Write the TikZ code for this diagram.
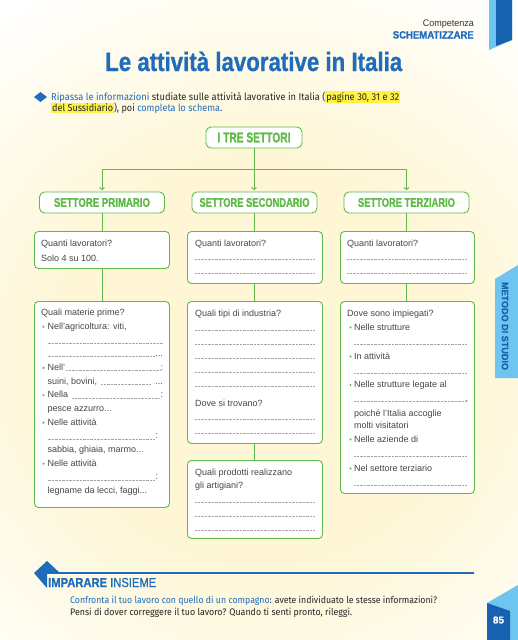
\documentclass[tikz,border=0pt]{standalone}
\usepackage{fontspec}
\usepackage{graphicx}
\setmainfont{Liberation Sans}
\newfontfamily\firafont{Fira Sans}
\newfontfamily\heavyfont[FakeBold=0.9]{Liberation Sans}
\newfontfamily\heavierfont[FakeBold=1.6]{Liberation Sans}
\usetikzlibrary{arrows.meta}
\definecolor{tblue}{RGB}{30,108,186}
\definecolor{dblue}{RGB}{24,96,176}
\definecolor{lblue}{RGB}{110,198,240}
\definecolor{sgreen}{RGB}{96,186,74}
\definecolor{tgray}{RGB}{70,70,70}
\definecolor{cream}{RGB}{254,246,212}
\definecolor{hyellow}{RGB}{255,242,70}
\pgfdeclareradialshading{creamglow}{\pgfpoint{0bp}{0bp}}{color(0bp)=(cream); color(11bp)=(cream); color(25bp)=(white); color(50bp)=(white)}
\newcommand{\wfit}[2]{\resizebox{#1}{\height}{#2}}
\newcommand{\hlt}[1]{{\fboxsep=1pt\colorbox{hyellow}{#1}}}
\newcommand{\tl}[4]{\node[txt] (#1) at (#2,#3) {#4};}
\newcommand{\dl}[3]{\draw[dots] (#1,#3) -- (#2,#3);}
\newcommand{\bl}[3]{\node[bul] (#1) at (#2,#3) {};}
\begin{document}
\begin{tikzpicture}[x=1pt,y=-1pt,
  gbox/.style={draw=sgreen, line width=0.9pt, rounded corners=4pt, fill=white, inner sep=0pt, anchor=north west},
  hbox/.style={draw=sgreen, line width=0.9pt, rounded corners=5pt, fill=white, inner sep=0pt, text=sgreen, minimum height=21pt},
  conn/.style={draw=sgreen, line width=0.9pt},
  arr/.style={conn, -{To[length=3pt,width=5.5pt]}, shorten >=1.5pt},
  txt/.style={anchor=base west, inner sep=0pt, text=tgray, font=\fontsize{9}{10}\selectfont},
  dots/.style={draw=black!35, line width=0.3pt, dash pattern=on 0.3pt off 1.1pt},
  bul/.style={fill=sgreen, circle, inner sep=0pt, minimum size=2.4pt}
]
\useasboundingbox (0,0) rectangle (518,640);
\fill[white] (0,0) rectangle (518,640);
\begin{scope}
\clip (0,0) rectangle (518,640);
\shade[top color=lblue, bottom color=white] (0,0) rectangle (518,30);
\shade[shading=creamglow] (-190,-70) rectangle (710,790);
\end{scope}

% top-right bookmark
\fill[lblue] (489,0) -- (512,0) -- (512,40) -- (489,50) -- cycle;
\fill[dblue] (496,0) -- (512,0) -- (512,40) -- (496,46) -- cycle;

% header
\node[anchor=base east, inner sep=0pt, text=black!80, font=\fontsize{9.5}{10}\selectfont] (comp) at (474,26) {\wfit{51pt}{Competenza}};
\node[anchor=base east, inner sep=0pt, text=tblue, font=\heavyfont\fontsize{10.5}{11}\selectfont\bfseries] (schem) at (474,38.5) {\wfit{81pt}{SCHEMATIZZARE}};
\node[anchor=base west, inner sep=0pt, text=tblue, font=\heavyfont\fontsize{26.5}{28}\selectfont\bfseries] (title) at (105,71) {\wfit{297pt}{Le attività lavorative in Italia}};

% instruction
\fill[tblue] (34,97) -- (40.5,92) -- (47,97) -- (40.5,102) -- cycle;
\node[anchor=base west, inner sep=0pt, text=black!85, font=\firafont\fontsize{10}{12}\selectfont] (ins1) at (51,100) {\wfit{349pt}{\textcolor{tblue}{Ripassa le informazioni} studiate sulle attività lavorative in Italia (\hlt{pagine 30, 31 e 32}}};
\node[anchor=base west, inner sep=0pt, text=black!85, font=\firafont\fontsize{10}{12}\selectfont] (ins2) at (51,111.5) {\wfit{171pt}{\hlt{del Sussidiario}), poi \textcolor{tblue}{completa lo schema}.}};

% tree headers
\node[hbox, minimum width=96pt] (top) at (254,137.5) {\heavierfont\fontsize{14}{14}\selectfont\bfseries\wfit{73pt}{I TRE SETTORI}};
\node[hbox, minimum width=125pt] (pri) at (102,202.5) {\heavierfont\fontsize{12.5}{13}\selectfont\bfseries\wfit{96pt}{SETTORE PRIMARIO}};
\node[hbox, minimum width=125pt] (sec) at (254.5,202.5) {\heavierfont\fontsize{12.5}{13}\selectfont\bfseries\wfit{110pt}{SETTORE SECONDARIO}};
\node[hbox, minimum width=125pt] (ter) at (406.5,202.5) {\heavierfont\fontsize{12.5}{13}\selectfont\bfseries\wfit{97pt}{SETTORE TERZIARIO}};

\coordinate (hl) at (102,169);
\coordinate (hr) at (406.5,169);
\draw[conn] (hl) -- (hr);
\draw[arr] (top.south) -- (top.south |- sec.north);
\draw[arr] (hl) -- (hl |- pri.north);
\draw[arr] (hr) -- (hr |- ter.north);

% boxes
\node[gbox, minimum width=135pt, minimum height=37pt] (p1) at (34,231) {};
\node[gbox, minimum width=135pt, minimum height=52pt] (s1) at (187,231) {};
\node[gbox, minimum width=134pt, minimum height=52pt] (t1) at (340,231) {};
\node[gbox, minimum width=135pt, minimum height=206pt] (p2) at (34,301) {};
\node[gbox, minimum width=135pt, minimum height=142pt] (s2) at (187,301) {};
\node[gbox, minimum width=135pt, minimum height=78pt] (s3) at (187,460) {};
\node[gbox, minimum width=134pt, minimum height=192pt] (t2) at (340,301) {};

\draw[conn] (pri.south) -- (pri.south |- p1.north);
\draw[conn] (sec.south) -- (sec.south |- s1.north);
\draw[conn] (ter.south) -- (ter.south |- t1.north);
\draw[conn] (pri.south |- p1.south) -- (pri.south |- p2.north);
\draw[conn] (sec.south |- s1.south) -- (sec.south |- s2.north);
\draw[conn] (ter.south |- t1.south) -- (ter.south |- t2.north);
\draw[conn] (sec.south |- s2.south) -- (sec.south |- s3.north);

% primary 1
\tl{pq1}{41}{246.5}{Quanti lavoratori?}
\tl{pa1}{41}{261.5}{Solo 4 su 100.}
% secondary 1
\tl{sq1}{195}{246.5}{Quanti lavoratori?}
\dl{195}{315}{259} \dl{195}{315}{273.5}
% tertiary 1
\tl{tq1}{347}{246.5}{Quanti lavoratori?}
\dl{347}{467}{259} \dl{347}{467}{273.5}

% primary 2
\tl{pq2}{41}{315.5}{Quali materie prime?}
\bl{pb1}{43.5}{326.7}\tl{pl1}{47.5}{329.2}{Nell'agricoltura: viti,}
\dl{47.5}{163}{342.9}
\dl{47.5}{154}{356.6}\node[txt, anchor=base east] (pe1) at (163,356.6) {...};
\bl{pb2}{43.5}{367.8}\tl{pl2}{47.5}{370.3}{Nell'}\dl{66}{160}{370.3}\tl{pc2}{160.5}{370.3}{:}
\tl{pl3}{47.5}{384}{suini, bovini,}\dl{101}{151}{384}\node[txt, anchor=base east] (pe3) at (163,384) {...};
\bl{pb3}{43.5}{395.2}\tl{pl4}{47.5}{397.7}{Nella}\dl{72}{160}{397.7}\tl{pc4}{160.5}{397.7}{:}
\tl{pl5}{47.5}{411.4}{pesce azzurro...}
\bl{pb4}{43.5}{422.6}\tl{pl6}{47.5}{425.1}{Nelle attività}
\dl{47.5}{155}{438.8}\tl{pc7}{155.5}{438.8}{:}
\tl{pl8}{47.5}{452.5}{sabbia, ghiaia, marmo...}
\bl{pb5}{43.5}{463.7}\tl{pl9}{47.5}{466.2}{Nelle attività}
\dl{47.5}{155}{479.9}\tl{pc10}{155.5}{479.9}{:}
\tl{pl11}{47.5}{493.6}{legname da lecci, faggi...}

% secondary 2
\tl{sq2}{195}{316}{Quali tipi di industria?}
\dl{195}{315}{330} \dl{195}{315}{344} \dl{195}{315}{358} \dl{195}{315}{372} \dl{195}{315}{386}
\tl{sq3}{195}{406}{Dove si trovano?}
\dl{195}{315}{419.5} \dl{195}{315}{433.5}
% secondary 3
\tl{sq4}{195}{475}{Quali prodotti realizzano}
\tl{sq5}{195}{488.5}{gli artigiani?}
\dl{195}{315}{502} \dl{195}{315}{516} \dl{195}{315}{530}

% tertiary 2
\tl{tq2}{347}{316}{Dove sono impiegati?}
\bl{tb1}{350.5}{327.5}\tl{tl1}{354}{330}{Nelle strutture}
\dl{354}{467}{344}
\bl{tb2}{350.5}{356.5}\tl{tl2}{354}{359}{In attività}
\dl{354}{467}{373}
\bl{tb3}{350.5}{385}\tl{tl3}{354}{387.5}{Nelle strutture legate al}
\dl{354}{465}{401}\tl{tc3}{465.5}{401}{,}
\tl{tl4}{354}{416}{poiché l'Italia accoglie}
\tl{tl5}{354}{428.5}{molti visitatori}
\bl{tb4}{350.5}{439.5}\tl{tl6}{354}{442}{Nelle aziende di}
\dl{354}{467}{456}
\bl{tb5}{350.5}{468.5}\tl{tl7}{354}{471}{Nel settore terziario}
\dl{354}{467}{485}

% right tab
\fill[lblue] (495,279) -- (518,265) -- (518,378) -- (495,378) -- cycle;
\node[rotate=-90, text=dblue, font=\heavyfont\fontsize{9.3}{10}\selectfont\bfseries, inner sep=0pt] (metodo) at (505,326) {\wfit{88pt}{METODO DI STUDIO}};

% imparare insieme
\draw[tblue, line width=1.2pt] (45,573) -- (474,573);
\fill[tblue] (34,573) -- (47,561) -- (60,573) -- (47,573) -- (47,588) -- cycle;
\node[anchor=base west, inner sep=0pt, text=tblue, font=\heavyfont\fontsize{13}{13}\selectfont] (imp) at (48,587) {\wfit{108pt}{\bfseries IMPARARE \mdseries INSIEME}};
\node[anchor=base west, inner sep=0pt, text=black!85, font=\firafont\fontsize{9.5}{11}\selectfont] (conf1) at (70,603) {\wfit{367pt}{\textcolor{tblue}{Confronta il tuo lavoro con quello di un compagno}: avete individuato le stesse informazioni?}};
\node[anchor=base west, inner sep=0pt, text=black!85, font=\firafont\fontsize{9.5}{11}\selectfont] (conf2) at (70,615.5) {\wfit{282pt}{Pensi di dover correggere il tuo lavoro? Quando ti senti pronto, rileggi.}};

% page number tab
\fill[lblue] (487,603) -- (518,585) -- (518,640) -- (487,640) -- cycle;
\fill[dblue] (487,603) -- (510,611) -- (510,640) -- (487,640) -- cycle;
\node[text=white, font=\heavyfont\fontsize{10}{10}\selectfont\bfseries, inner sep=0pt] (pg) at (498.5,620) {85};
\end{tikzpicture}
\end{document}
